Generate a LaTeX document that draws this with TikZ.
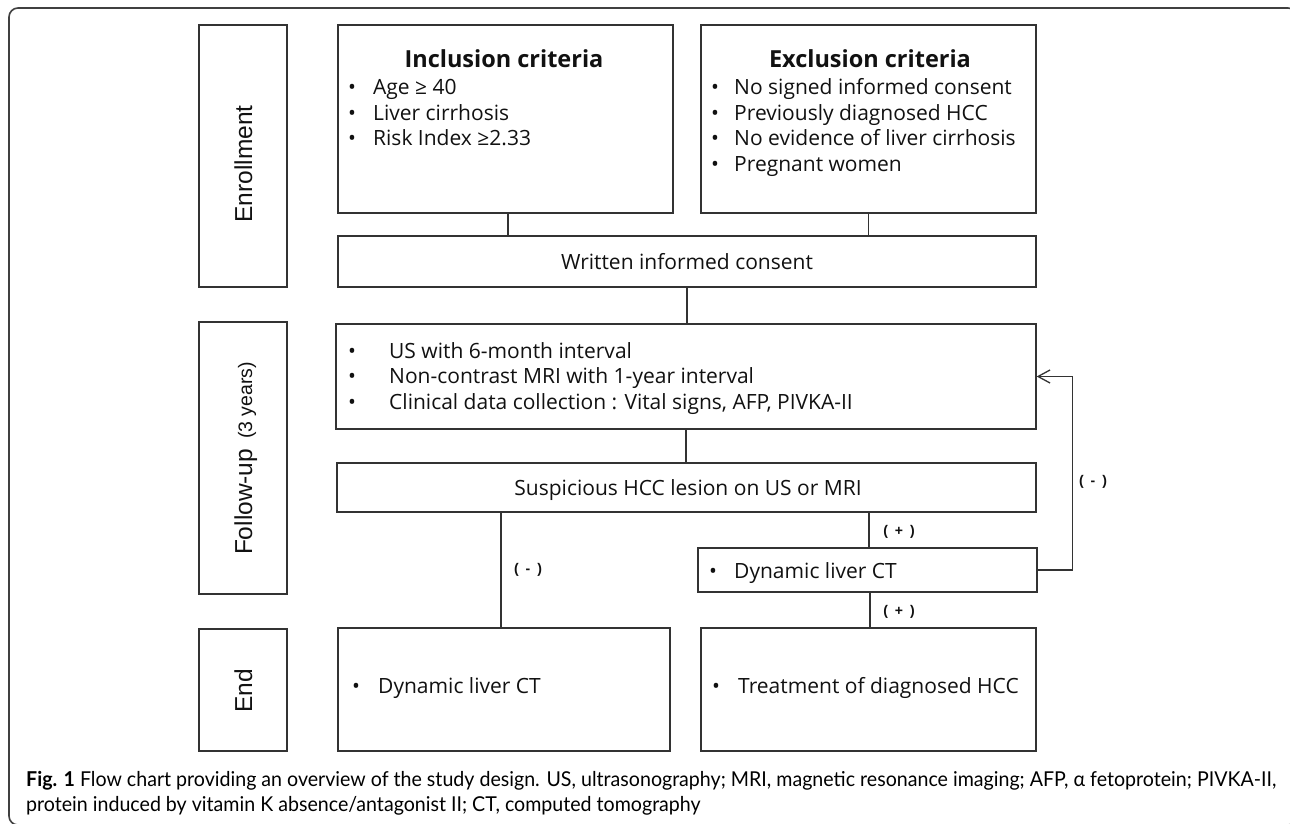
\documentclass[tikz,border=0pt]{standalone}
\usepackage{fontspec}
\usepackage{graphicx}
\setmainfont{Open Sans}
\newfontfamily\labfont{Liberation Sans}
\newfontfamily\capfont{Lato}
\usetikzlibrary{arrows.meta}
\definecolor{ln}{HTML}{333333}
\definecolor{tx}{HTML}{111111}
\newsavebox\capboxA
\newsavebox\capboxB
\newlength\capw
\newcommand\bul[1]{\makebox[#1pt][l]{•}}
\tikzset{
  box/.style={draw=ln, line width=1.3pt, inner sep=0pt, rectangle},
  conn/.style={draw=ln, line width=1.3pt},
  txt/.style={inner sep=0pt, text=tx, font=\fontsize{21}{25.5}\selectfont, anchor=base west},
  ctxt/.style={txt, anchor=base},
  ttl/.style={inner sep=0pt, text=tx, font=\bfseries\fontsize{23.5}{28}\selectfont, anchor=base},
  lab/.style={inner sep=0pt, text=tx, font=\labfont\fontsize{24.5}{28}\selectfont, rotate=90, anchor=base},
  sgn/.style={inner sep=0pt, text=tx, font=\labfont\bfseries\fontsize{14}{16}\selectfont},
  captxt/.style={inner sep=0pt, text=black!85, anchor=base west},
}
\begin{document}
\sbox\capboxA{\capfont\fontsize{20.5}{24}\selectfont\textbf{Fig. 1} Flow chart providing an overview of the study design. US, ultrasonography; MRI, magnetic resonance imaging; AFP, α fetoprotein; PIVKA-II,}%
\sbox\capboxB{\capfont\fontsize{20.5}{24}\selectfont protein induced by vitamin K absence/antagonist II; CT, computed tomography}%
\setlength\capw{\wd\capboxA}%
\pgfmathsetmacro\capsx{1250/\capw}%
\begin{tikzpicture}[x=1pt,y=-1pt]
\useasboundingbox (0,0) rectangle (1290,824);
\fill[white] (0,0) rectangle (1290,824);
\clip (0,0) rectangle (1290,824);
% outer frame
\draw[black!75, line width=1.6pt, rounded corners=9pt] (9,8) rectangle (1297,825);

% stage labels
\node[box, minimum width=88pt, minimum height=262pt] (enr) at (243,156) {};
\node[box, minimum width=88pt, minimum height=272pt] (ful) at (243,458) {};
\node[box, minimum width=88pt, minimum height=122pt] (endl) at (243,690) {};
\node[lab] (enrt) at (252,164) {Enrollment};
\node[lab] (fult) at (252,458.5) {Follow-up\hspace{3pt} {\fontsize{19.5}{22}\selectfont (3 years)}};
\node[lab] (endt) at (252,691) {End};

% boxes
\node[box, minimum width=335pt, minimum height=188pt] (incl) at (505.5,119) {};
\node[box, minimum width=335pt, minimum height=188pt] (excl) at (868.5,119) {};
\node[box, minimum width=698pt, minimum height=51pt] (cons) at (687,261.5) {};
\node[box, minimum width=700pt, minimum height=105pt] (fu) at (686,376.5) {};
\node[box, minimum width=699pt, minimum height=49pt] (susp) at (686.5,487.5) {};
\node[box, minimum width=339pt, minimum height=44pt] (ct) at (867.5,570) {};
\node[box, minimum width=332pt, minimum height=123pt] (endleft) at (504,689.5) {};
\node[box, minimum width=335pt, minimum height=123pt] (treat) at (868.5,689.5) {};

% texts
\node[ttl] (inclT) at (504,68) {Inclusion criteria};
\node[txt] (i1) at (348,95) {\bul{25}Age ≥ 40};
\node[txt] (i2) at (348,120.5) {\bul{25}Liver cirrhosis};
\node[txt] (i3) at (348,146) {\bul{25}Risk Index ≥2.33};

\node[ttl] (exclT) at (870,68) {Exclusion criteria};
\node[txt] (e1) at (711,95) {\bul{23}No signed informed consent};
\node[txt] (e2) at (711,120.5) {\bul{23}Previously diagnosed HCC};
\node[txt] (e3) at (711,146) {\bul{23}No evidence of liver cirrhosis};
\node[txt] (e4) at (711,171.5) {\bul{23}Pregnant women};

\node[ctxt] (consT) at (687,269) {Written informed consent};

\node[txt] (f1) at (348,358) {\bul{41}US with 6-month interval};
\node[txt] (f2) at (348,383.5) {\bul{41}Non-contrast MRI with 1-year interval};
\node[txt] (f3) at (348,409) {\bul{41}Clinical data collection : Vital signs, AFP, PIVKA-II};

\node[ctxt] (suspT) at (688,495) {Suspicious HCC lesion on US or MRI};
\node[txt] (ctT) at (709,578) {\bul{25}Dynamic liver CT};
\node[txt] (endT) at (352,693) {\bul{26}Dynamic liver CT};
\node[txt] (treatT) at (712,693) {\bul{26}Treatment of diagnosed HCC};

% connectors
\draw[conn] ([xshift=2.5pt]incl.south) -- ([xshift=2.5pt]incl.south |- cons.north);
\draw[conn] (excl.south) -- (excl.south |- cons.north);
\draw[conn] (cons.south) -- (cons.south |- fu.north);
\draw[conn] (fu.south) -- (fu.south |- susp.north);
\draw[conn] ([xshift=-3pt]endleft.north |- susp.south) -- ([xshift=-3pt]endleft.north);
\draw[conn] ([xshift=1.5pt]ct.north |- susp.south) -- ([xshift=1.5pt]ct.north);
\draw[conn] ([xshift=2.5pt]ct.south) -- ([xshift=2.5pt]ct.south |- treat.north);
\draw[conn, -{Straight Barb[length=12pt,width=13pt,line width=1.3pt]}] (ct.east) -- ++(35,0) |- (fu.east);

% signs
\node[sgn] (sL) at (528,570) {(\hspace{7pt}-\hspace{7pt})};
\node[sgn] (sP1) at (899,532) {(\hspace{7pt}+\hspace{7pt})};
\node[sgn] (sP2) at (899,612) {(\hspace{7pt}+\hspace{7pt})};
\node[sgn] (sR) at (1093,482) {(\hspace{7pt}-\hspace{7pt})};

% caption
\node[captxt] (cap1) at (26,786) {\scalebox{\capsx}[1]{\usebox\capboxA}};
\node[captxt] (cap2) at (26,811) {\scalebox{\capsx}[1]{\usebox\capboxB}};
\end{tikzpicture}
\end{document}
